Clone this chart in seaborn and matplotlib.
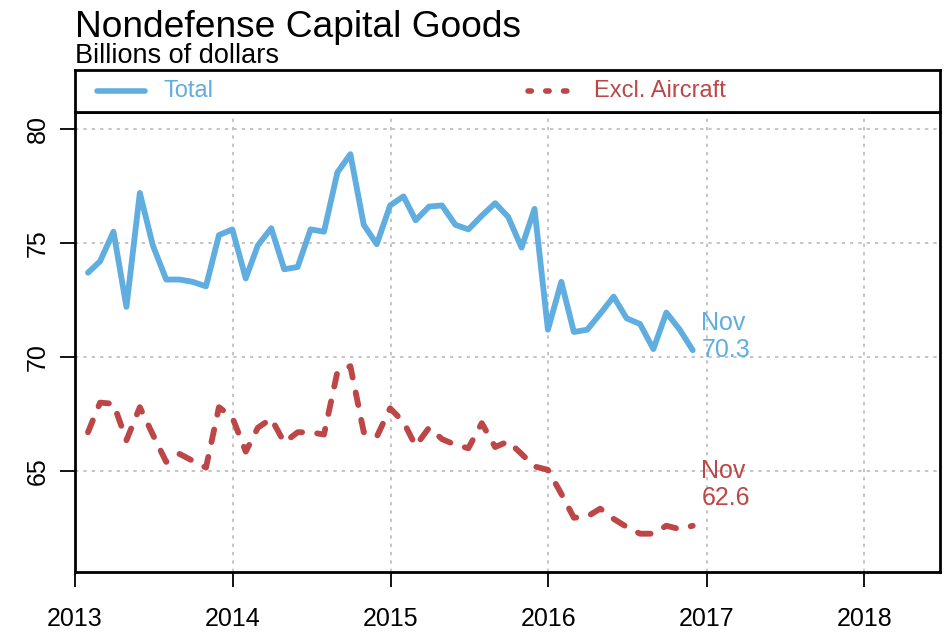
import pandas as pd
import numpy as np
import matplotlib
matplotlib.use("Agg")
import matplotlib.pyplot as plt
import matplotlib.dates as mdates
import seaborn as sns

# Valori mensili (miliardi di dollari), gen 2013 - nov 2016
total = [73.7, 74.2, 75.5, 72.2, 77.2, 74.9, 73.4, 73.4, 73.3, 73.1, 75.35, 75.6,
         73.45, 74.9, 75.65, 73.85, 73.95, 75.6, 75.5, 78.1, 78.9, 75.8, 74.95, 76.65,
         77.05, 76.0, 76.6, 76.65, 75.8, 75.6, 76.2, 76.75, 76.15, 74.8, 76.5, 71.2,
         73.3, 71.1, 71.2, 71.9, 72.65, 71.7, 71.45, 70.35, 71.95, 71.2, 70.3]
excl_aircraft = [66.7, 68.0, 67.95, 66.35, 67.8, 66.6, 65.4, 65.75, 65.45, 65.15, 67.8, 67.35,
                 65.85, 66.9, 67.3, 66.25, 66.7, 66.7, 66.6, 69.35, 69.6, 66.7, 66.5, 67.75,
                 67.15, 66.1, 66.9, 66.4, 66.15, 66.0, 67.1, 66.05, 66.3, 65.75, 65.2, 65.05,
                 64.0, 62.95, 63.0, 63.35, 62.9, 62.55, 62.25, 62.25, 62.6, 62.45, 62.6]
dates = pd.date_range('2013-01-01', periods=len(total), freq='MS') + pd.offsets.MonthEnd(0)
y_ticks = [65, 70, 75, 80]
x_years = [2013, 2014, 2015, 2016, 2017, 2018]

df = pd.DataFrame({'Date': dates, 'Total': total, 'Excl': excl_aircraft})

blu = '#60ADE0'
rosso = '#BD4646'

sns.set_style('white')
plt.rcParams['font.family'] = ['Liberation Sans', 'DejaVu Sans']
plt.rcParams['text.color'] = 'black'
plt.rcParams['xtick.color'] = 'black'
plt.rcParams['ytick.color'] = 'black'
plt.rcParams['axes.labelcolor'] = 'black'

W, H = 947, 636
fig = plt.figure(figsize=(W / 100, H / 100), dpi=100)
ax = fig.add_axes([75 / W, 64 / H, 865 / W, 460 / H])
lax = fig.add_axes([75 / W, 524 / H, 865 / W, 42 / H])

# Linee
sns.lineplot(data=df, x='Date', y='Total', ax=ax, color=blu, linewidth=4.2,
             solid_capstyle='round', solid_joinstyle='round')
sns.lineplot(data=df, x='Date', y='Excl', ax=ax, color=rosso, linewidth=4.2,
             linestyle=(0, (2.2, 2.6)), dash_capstyle='round', dash_joinstyle='round')

# Etichette ultimo valore
last = df['Date'].iloc[-1] + pd.Timedelta(days=20)
ax.text(last, total[-1] + 0.6, f"Nov\n{total[-1]:.1f}", color=blu, fontsize=18,
        ha='left', va='center', linespacing=1.15)
ax.text(last, excl_aircraft[-1] + 1.8, f"Nov\n{excl_aircraft[-1]:.1f}", color=rosso, fontsize=18,
        ha='left', va='center', linespacing=1.15)

# Assi
ax.set_xlim(pd.Timestamp('2013-01-01'), pd.Timestamp('2018-06-25'))
ax.set_ylim(60.57, 80.75)
ax.set_xticks([pd.Timestamp(f'{y}-01-01') for y in x_years])
ax.xaxis.set_major_formatter(mdates.DateFormatter('%Y'))
ax.set_yticks(y_ticks)
ax.set_xlabel('')
ax.set_ylabel('')
ax.grid(True, color='#BBBBBB', linestyle=(0, (2, 3)), linewidth=1.2)
ax.tick_params(axis='both', direction='out', length=11, width=1.3, labelsize=18,
               left=True, bottom=True, color='black', labelcolor='black')
ax.tick_params(axis='x', pad=14)
ax.tick_params(axis='y', pad=7, labelrotation=90)
for lab in ax.get_yticklabels():
    lab.set_va('center')
for s in ax.spines.values():
    s.set_visible(True)
    s.set_linewidth(2)
    s.set_color('black')

# Riquadro legenda
lax.set_xlim(0, 1)
lax.set_ylim(0, 1)
lax.set_xticks([])
lax.set_yticks([])
for s in lax.spines.values():
    s.set_visible(True)
    s.set_linewidth(2)
    s.set_color('black')
lax.plot([0.025, 0.081], [0.5, 0.5], color=blu, lw=4, solid_capstyle='round')
lax.text(0.102, 0.5, 'Total', color=blu, fontsize=17, va='center', ha='left')
lax.plot([0.524, 0.570], [0.5, 0.5], color=rosso, lw=4, linestyle=(0, (0.6, 2.6)),
         dash_capstyle='round')
lax.text(0.600, 0.5, 'Excl. Aircraft', color=rosso, fontsize=17, va='center', ha='left')

# Titoli
fig.text(75 / W, 1 - 37 / H, 'Nondefense Capital Goods', fontsize=26.7, ha='left',
         va='baseline', color='black')
fig.text(75 / W, 1 - 63 / H, 'Billions of dollars', fontsize=19.5, ha='left',
         va='baseline', color='black')

fig.savefig('out.png', dpi=100)
